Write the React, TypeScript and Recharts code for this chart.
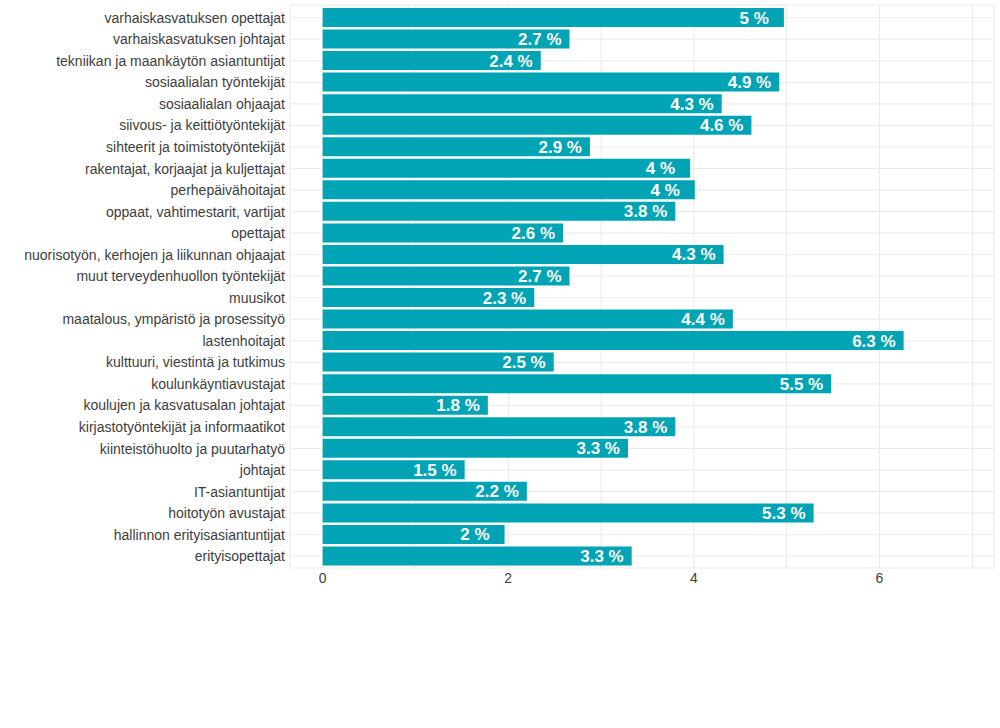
import { BarChart, Bar, XAxis, YAxis, CartesianGrid, LabelList } from "recharts";

const categories = [
  "varhaiskasvatuksen opettajat",
  "varhaiskasvatuksen johtajat",
  "tekniikan ja maankäytön asiantuntijat",
  "sosiaalialan työntekijät",
  "sosiaalialan ohjaajat",
  "siivous- ja keittiötyöntekijät",
  "sihteerit ja toimistotyöntekijät",
  "rakentajat, korjaajat ja kuljettajat",
  "perhepäivähoitajat",
  "oppaat, vahtimestarit, vartijat",
  "opettajat",
  "nuorisotyön, kerhojen ja liikunnan ohjaajat",
  "muut terveydenhuollon työntekijät",
  "muusikot",
  "maatalous, ympäristö ja prosessityö",
  "lastenhoitajat",
  "kulttuuri, viestintä ja tutkimus",
  "koulunkäyntiavustajat",
  "koulujen ja kasvatusalan johtajat",
  "kirjastotyöntekijät ja informaatikot",
  "kiinteistöhuolto ja puutarhatyö",
  "johtajat",
  "IT-asiantuntijat",
  "hoitotyön avustajat",
  "hallinnon erityisasiantuntijat",
  "erityisopettajat",
];

const values = [
  4.97, 2.66, 2.35, 4.92, 4.3, 4.62, 2.88, 3.96, 4.01, 3.8, 2.59, 4.32, 2.66,
  2.28, 4.42, 6.26, 2.49, 5.48, 1.78, 3.8, 3.29, 1.53, 2.2, 5.29, 1.96, 3.33,
];

const xTicks = [0, 1, 2, 3, 4, 5, 6, 7];

const data = categories.map((name, i) => ({ name, value: values[i] }));

const fmt = (v: number) => `${Number(v.toFixed(1))} %`;

const BarLabel = (props: any) => {
  const { x, y, width, height, value } = props;
  const label = fmt(value);
  const gap = label.includes(".") ? 8 : 15;
  return (
    <text
      x={x + width - gap}
      y={y + height / 2 + 6}
      textAnchor="end"
      fill="#ffffff"
      fontSize={17}
      fontWeight="bold"
      fontFamily="Liberation Sans, Arial, sans-serif"
    >
      {label}
    </text>
  );
};

export default function App() {
  return (
    <div style={{ position: "absolute", left: 0, top: 0, background: "#fff" }}>
      <BarChart
        width={1000}
        height={728}
        data={data}
        layout="vertical"
        margin={{ top: 5, right: 6, bottom: 130, left: 0 }}
        barSize={19}
      >
        <CartesianGrid stroke="#EBEBEB" strokeWidth={1.1} />
        <XAxis
          type="number"
          domain={[-0.352, 7.234]}
          ticks={xTicks}
          tickFormatter={(v) => (v % 2 === 0 ? String(v) : "")}
          axisLine={false}
          tickLine={false}
          tickSize={0}
          tickMargin={5}
          height={30}
          tick={{ fill: "#3D3D3D", fontSize: 14, fontFamily: "Liberation Sans, Arial, sans-serif" }}
        />
        <YAxis
          type="category"
          dataKey="name"
          width={290}
          axisLine={false}
          tickLine={false}
          tickSize={0}
          tickMargin={5}
          interval={0}
          padding={{ top: 2, bottom: 1 }}
          tick={{ fill: "#3D3D3D", fontSize: 14, fontFamily: "Liberation Sans, Arial, sans-serif" }}
        />
        <Bar dataKey="value" fill="#00A4B4" isAnimationActive={false}>
          <LabelList dataKey="value" content={BarLabel} />
        </Bar>
      </BarChart>
    </div>
  );
}
